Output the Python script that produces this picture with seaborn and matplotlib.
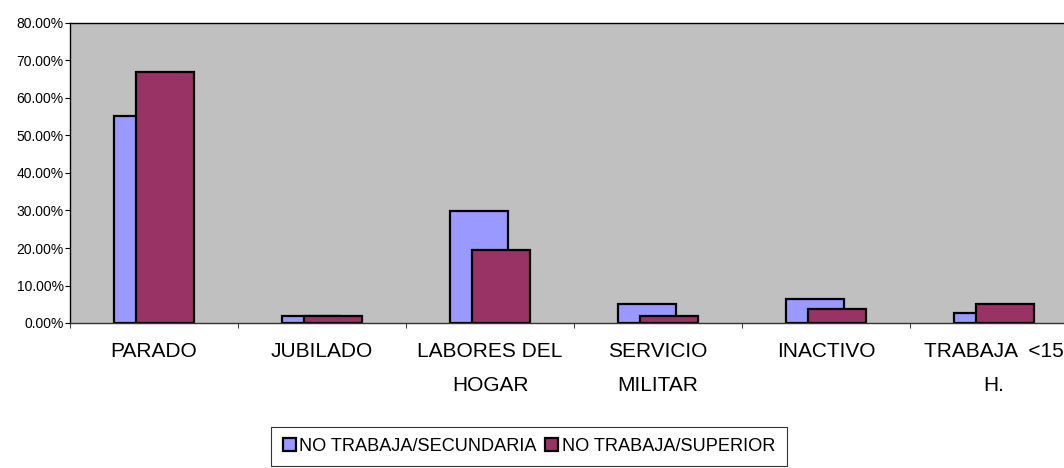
import numpy as np
import pandas as pd
import matplotlib
matplotlib.use("Agg")
import matplotlib.pyplot as plt
from matplotlib.patches import Patch
import seaborn as sns

# ---- data ----
categories = ["PARADO", "JUBILADO", "LABORES DEL\nHOGAR", "SERVICIO\nMILITAR", "INACTIVO", "TRABAJA  <15\nH."]
secundaria = [55.2, 2.0, 29.9, 5.1, 6.4, 2.7]
superior = [66.9, 2.0, 19.5, 1.9, 3.8, 5.2]
series_names = ["NO TRABAJA/SECUNDARIA", "NO TRABAJA/SUPERIOR"]
series_colors = ["#9999FF", "#993366"]
yticks = [0, 10, 20, 30, 40, 50, 60, 70, 80]

sns.set_theme(style="white")
plt.rcParams['font.family'] = ['Liberation Sans', 'DejaVu Sans']

fig = plt.figure(figsize=(10.64, 4.68), dpi=100)
ax = fig.add_axes([70/1064, 145/468, 1008/1064, 300/468])
ax.set_facecolor("#C0C0C0")

pos = np.arange(len(categories))
shift = 0.065
bar_w = 0.345
for vals, col, sgn in [(secundaria, series_colors[0], -1), (superior, series_colors[1], 1)]:
    df = pd.DataFrame({"x": pos + sgn * shift, "y": vals})
    sns.barplot(data=df, x="x", y="y", native_scale=True, width=bar_w,
                color=col, saturation=1, edgecolor="black", linewidth=1.6,
                errorbar=None, ax=ax)

ax.set_xlim(-0.5, len(categories) - 0.5)
ax.set_ylim(0, 80)
ax.set_xlabel("")
ax.set_ylabel("")

ax.set_yticks(yticks)
ax.set_yticklabels([f"{v:.2f}%" for v in yticks], fontsize=10)
ax.set_xticks(np.arange(-0.5, len(categories), 1))
ax.set_xticklabels([])
ax.set_xticks(pos, minor=True)
ax.set_xticklabels(categories, minor=True, fontsize=15, linespacing=1.95)

ax.tick_params(axis="y", which="major", direction="out", length=3.5, width=0.8,
               color="black", pad=1, left=True, labelcolor="black")
ax.tick_params(axis="x", which="major", direction="out", length=3.5, width=0.8,
               color="#444444", bottom=True)
ax.tick_params(axis="x", which="minor", length=0, pad=14, labelcolor="black")

for s in ["left", "top", "right"]:
    ax.spines[s].set_color("black")
    ax.spines[s].set_linewidth(1.0)
ax.spines["bottom"].set_color("#333333")
ax.spines["bottom"].set_linewidth(1.0)

handles = [Patch(facecolor=c, edgecolor="black", linewidth=1.6) for c in series_colors]
leg = fig.legend(handles, series_names, loc="center",
                 bbox_to_anchor=(529/1064, 1 - 446.5/468), ncol=2,
                 frameon=True, fancybox=False, edgecolor="black",
                 fontsize=13.1, handlelength=0.72, handleheight=0.72,
                 handletextpad=0.2, columnspacing=0.45, borderpad=0.62,
                 borderaxespad=0)
leg.get_frame().set_linewidth(0.8)
for t in leg.get_texts():
    t.set_color("black")

fig.savefig("out.png", dpi=100)
